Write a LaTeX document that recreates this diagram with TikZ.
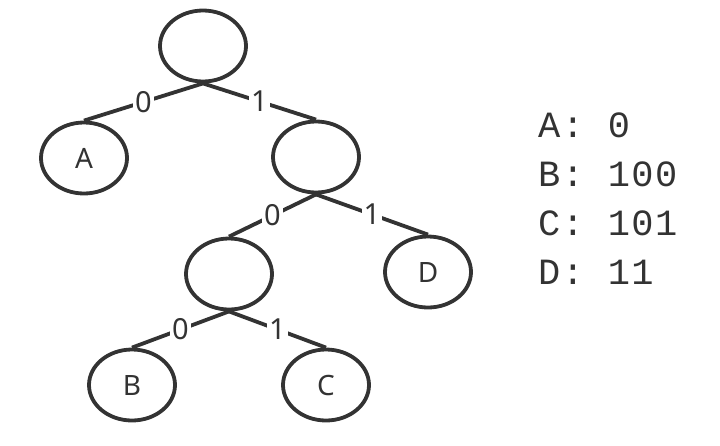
\documentclass[tikz,border=0pt]{standalone}
\usepackage{fontspec}
\setmainfont{Noto Sans}
\newfontfamily\codefont[LetterSpace=4]{Liberation Mono}
\usetikzlibrary{shapes.geometric}
\definecolor{inkgray}{RGB}{51,51,51}

\begin{document}
\begin{tikzpicture}[x=1pt,y=-1pt,
 tnode/.style={draw=inkgray,line width=3.8pt,ellipse,minimum width=86pt,
  minimum height=71pt,inner sep=0pt,text=inkgray,font=\fontsize{28}{30}\selectfont},
 bit/.style={fill=white,inner sep=2pt,text=inkgray,font=\fontsize{29}{30}\selectfont},
 branch/.style={draw=inkgray,line width=3.8pt},
 codeline/.style={anchor=base west,inner sep=0pt,text=inkgray,
  font=\codefont\fontsize{37}{40}\selectfont}]
\useasboundingbox (0,0) rectangle (720,445);
% tree
\node[tnode] (root) at (203,46) {};
\node[tnode] (A) at (84,158) {A};
\node[tnode] (n1) at (316,157) {};
\node[tnode] (n10) at (229,274) {};
\node[tnode] (D) at (428,272) {D};
\node[tnode] (B) at (132,385) {B};
\node[tnode] (C) at (326,385) {C};
\foreach \p/\c/\b in {root/A/0,root/n1/1,n1/n10/0,n1/D/1,n10/B/0,n10/C/1} {
 \path[branch] (\p.south) -- node[bit] {\b} (\c.north);
}
% code table
\foreach \ch/\code [count=\i] in {A/0,B/100,C/101,D/11} {
 \node[codeline] (code\ch) at (538,88+49*\i) {\ch: \code};
}
\end{tikzpicture}
\end{document}
